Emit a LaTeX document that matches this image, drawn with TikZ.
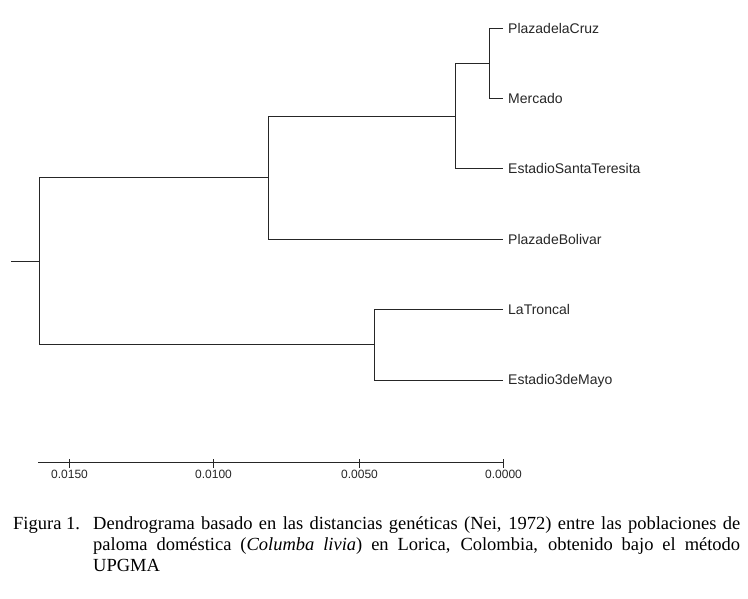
\documentclass[tikz,border=0pt]{standalone}
\usepackage{fontspec}
\setmainfont{Liberation Serif}
\newfontfamily\lsans{Liberation Sans}
\begin{document}
\begin{tikzpicture}[x=1pt,y=-1pt,
  branch/.style={draw=black!85,line width=1pt},
  leaf/.style={anchor=west,inner xsep=5pt,inner ysep=0pt,font=\lsans\fontsize{14}{16}\selectfont,text=black!85},
  ticklab/.style={anchor=base,inner sep=0pt,font=\lsans\fontsize{12}{14}\selectfont,text=black!85},
  captext/.style={inner sep=0pt,font=\fontsize{18.5}{21}\selectfont}]
\useasboundingbox (0,0) rectangle (748,598);
% leaves
\node[leaf] (l1) at (503,28.5) {PlazadelaCruz};
\node[leaf] (l2) at (503,98.5) {Mercado};
\node[leaf] (l3) at (503,168.5) {EstadioSantaTeresita};
\node[leaf] (l4) at (503,239.5) {PlazadeBolivar};
\node[leaf] (l5) at (503,309.5) {LaTroncal};
\node[leaf] (l6) at (503,380.5) {Estadio3deMayo};
% internal nodes
\coordinate (c) at (489.5,63.5);
\coordinate (b) at (455.5,116.5);
\coordinate (a) at (268.5,177.5);
\coordinate (d) at (374.5,344.5);
\coordinate (r) at (39.5,261.5);
\coordinate (s) at (11,261.5);
\draw[branch] (l1.west) -| (c) |- (l2.west);
\draw[branch] (c) -| (b) |- (l3.west);
\draw[branch] (b) -| (a) |- (l4.west);
\draw[branch] (l5.west) -| (d) |- (l6.west);
\draw[branch] (a) -| (r) |- (d);
\draw[branch] (s) -- (r);
% axis
\coordinate (ax0) at (38,462.5);
\coordinate (ax1) at (503.5,462.5);
\draw[branch] (ax0) -- (ax1);
\foreach \i/\x/\t in {1/69.5/0.0150,2/213.5/0.0100,3/359.5/0.0050,4/503.5/0.0000}{
  \coordinate (tk\i) at (\x,462.5);
  \draw[branch] ([yshift=-5pt]tk\i) -- ([yshift=4pt]tk\i);
  \node[ticklab] (tl\i) at (\x,478) {\t};
}
% caption
\node[captext,anchor=base west] (fig) at (13,529) {Figura 1.};
\node[captext,anchor=base west,text width=647pt,align=justify] (cap) at (93,529)
 {Dendrograma basado en las distancias genéticas (Nei, 1972) entre las poblaciones de\linebreak
  paloma doméstica (\textit{Columba livia}) en Lorica, Colombia, obtenido bajo el método\linebreak
  UPGMA};
\end{tikzpicture}
\end{document}
